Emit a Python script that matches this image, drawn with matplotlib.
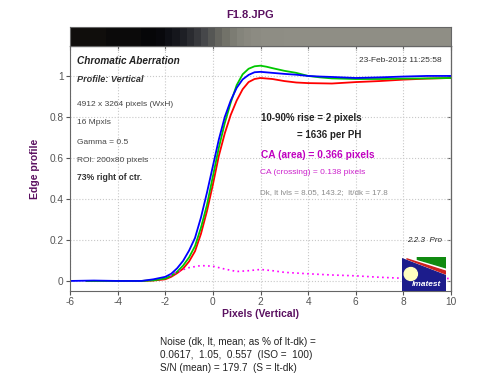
import numpy as np
import matplotlib.pyplot as plt
from matplotlib.patches import Polygon, Ellipse

plt.rcParams['font.family'] = ['Liberation Sans', 'DejaVu Sans']
plt.rcParams['axes.unicode_minus'] = False

# edge profiles (pixels vs normalized level)
x_blue = [-6, -5, -4, -3, -2.5, -2, -1.75, -1.5, -1.25, -1, -0.75, -0.5, -0.25, 0,
          0.25, 0.5, 0.75, 1, 1.25, 1.5, 1.75, 2, 2.5, 3, 3.5, 4, 4.5, 5, 6, 7, 8, 9, 10]
y_blue = [0.0, 0.002, 0.0, 0.0, 0.008, 0.02, 0.035, 0.062, 0.098, 0.148, 0.21, 0.31, 0.43, 0.56,
          0.69, 0.80, 0.88, 0.942, 0.983, 1.005, 1.018, 1.02, 1.015, 1.01, 1.006, 1.0, 0.997,
          0.995, 0.99, 0.993, 0.997, 1.0, 1.0]

x_green = [-5.3, -4, -3, -2.5, -2, -1.75, -1.5, -1.25, -1, -0.75, -0.5, -0.25, 0,
           0.25, 0.5, 0.75, 1, 1.25, 1.5, 1.75, 2, 2.25, 2.5, 3, 3.5, 4, 4.5, 5, 6, 7, 8, 9, 10]
y_green = [0.0, 0.0, 0.0, 0.003, 0.012, 0.025, 0.045, 0.075, 0.115, 0.17, 0.26, 0.37, 0.51,
           0.65, 0.77, 0.87, 0.955, 1.008, 1.035, 1.047, 1.05, 1.045, 1.038, 1.025, 1.015, 1.0,
           0.993, 0.988, 0.985, 0.985, 0.987, 0.988, 0.99]

x_red = [-5.3, -4, -3, -2.5, -2, -1.75, -1.5, -1.25, -1, -0.75, -0.5, -0.25, 0,
         0.25, 0.5, 0.75, 1, 1.25, 1.5, 1.75, 2, 2.5, 3, 3.5, 4, 5, 6, 7, 8, 9, 10]
y_red = [0.0, 0.0, 0.0, 0.002, 0.008, 0.02, 0.038, 0.06, 0.095, 0.145, 0.23, 0.34, 0.47,
         0.61, 0.72, 0.81, 0.88, 0.935, 0.97, 0.985, 0.99, 0.985, 0.975, 0.968, 0.965,
         0.963, 0.97, 0.975, 0.982, 0.987, 0.99]

# chromatic aberration difference (dotted)
x_ca = [-1.8, -1.5, -1, -0.5, 0, 0.5, 1, 1.5, 2, 2.5, 3, 4, 5, 6, 7, 8, 9, 10]
y_ca = [0.025, 0.045, 0.065, 0.075, 0.072, 0.058, 0.046, 0.05, 0.056, 0.05, 0.042, 0.035,
        0.029, 0.025, 0.018, 0.013, 0.012, 0.012]

# edge image strip above the plot
bar_edges = [-6, -4.5, -3, -2.4, -2.0, -1.7, -1.4, -1.1, -0.8, -0.5, -0.2, 0.1, 0.4, 0.7,
             1.0, 1.3, 1.6, 2.0, 3, 10]
bar_colors = ['#100e0c', '#0b0a0a', '#060608', '#08080c', '#0e0f15', '#15161c', '#1e1f25',
              '#2a2b30', '#37383c', '#46474a', '#555654', '#65655f', '#727269', '#7c7c73',
              '#84847b', '#89887f', '#8c8b82', '#8e8d84', '#8f8e85']

fig = plt.figure(figsize=(5, 3.84), dpi=100)


def fx(px):
    return px / 500


def fy(py):
    return 1 - py / 384


ax = fig.add_axes([0.14, 0.2422, 0.762, 0.638])
ax.plot(x_red, y_red, color='#ff0000', lw=1.3)
ax.plot(x_green, y_green, color='#00c800', lw=1.3)
ax.plot(x_blue, y_blue, color='#0000ff', lw=1.3)
ax.plot(x_ca, y_ca, color='#ff00ff', lw=1.2, ls=(0, (1, 2)))

ax.set_xlim(-6, 10)
ax.set_ylim(-0.049, 1.146)
ax.set_xticks(range(-6, 11, 2))
ax.set_yticks([0, 0.2, 0.4, 0.6, 0.8, 1])
ax.set_yticklabels(['0', '0.2', '0.4', '0.6', '0.8', '1'])
ax.grid(True, ls=':', color='#c8c8c8', lw=0.8)
ax.tick_params(labelsize=7.3, colors='#555555', length=3, direction='out', pad=1.5)
for s in ax.spines.values():
    s.set_color('#666666')
    s.set_linewidth(0.8)
sec = ax.secondary_xaxis('top')
sec.set_xticks(range(-6, 11, 2))
sec.tick_params(direction='in', length=3, labeltop=False, colors='#666666')
sec2 = ax.secondary_yaxis('right')
sec2.set_yticks([0, 0.2, 0.4, 0.6, 0.8, 1])
sec2.tick_params(direction='in', length=3, labelright=False, colors='#666666')

ax.set_xlabel('Pixels (Vertical)', fontsize=7.5, fontweight='bold', color='#5a1060', labelpad=1)
ax.set_ylabel('Edge profile', fontsize=7.5, fontweight='bold', color='#5a1060', labelpad=7)

# strip
axb = fig.add_axes([0.14, 0.880, 0.762, 0.0495])
axb.bar(bar_edges[:-1], 1, width=np.diff(bar_edges), align='edge', color=bar_colors, lw=0)
axb.set_xlim(-6, 10)
axb.set_ylim(0, 1)
axb.set_xticks([])
axb.set_yticks([])
for s in axb.spines.values():
    s.set_color('#666666')
    s.set_linewidth(0.8)

fig.text(0.5, fy(15), 'F1.8.JPG', ha='center', va='center', fontsize=8,
         fontweight='bold', color='#5a1060')

# annotations inside plot
fig.text(fx(77), fy(61), 'Chromatic Aberration', fontsize=7.2, fontweight='bold',
         style='italic', color='#222222', va='center')
fig.text(fx(77), fy(79), 'Profile: Vertical', fontsize=6.6, fontweight='bold',
         style='italic', color='#333333', va='center')
left_lines = ['4912 x 3264 pixels (WxH)', '16 Mpxls', 'Gamma = 0.5', 'ROI: 200x80 pixels']
for i, t in enumerate(left_lines):
    fig.text(fx(77), fy(104 + i * 19), t, fontsize=6, color='#444444', va='center')
fig.text(fx(77), fy(177), '73% right of ctr.', fontsize=6.2, fontweight='bold',
         color='#333333', va='center')
fig.text(fx(442), fy(61), '23-Feb-2012 11:25:58', fontsize=6, color='#333333',
         ha='right', va='center')
fig.text(fx(261), fy(118), '10-90% rise = 2 pixels', fontsize=7, fontweight='bold',
         color='#222222', va='center')
fig.text(fx(297), fy(135), '= 1636 per PH', fontsize=7, fontweight='bold',
         color='#222222', va='center')
fig.text(fx(261), fy(155), 'CA (area) = 0.366 pixels', fontsize=7.3, fontweight='bold',
         color='#c000c0', va='center')
fig.text(fx(260), fy(173), 'CA (crossing) = 0.138 pixels', fontsize=6,
         color='#cc22cc', va='center')
fig.text(fx(260), fy(193), 'Dk, lt lvls = 8.05, 143.2;  lt/dk = 17.8', fontsize=5.8,
         color='#8a8a8a', va='center')
fig.text(fx(442), fy(240), '2.2.3  Pro', fontsize=5.8, style='italic', color='#222222',
         ha='right', va='center')

# logo
axl = fig.add_axes([fx(402), fy(291), fx(44), 34 / 384])
axl.set_xlim(0, 1)
axl.set_ylim(0, 1)
axl.axis('off')
axl.add_patch(Polygon([(0, 0), (1, 0), (1, 0.45), (0, 0.95)], color='#1c1c8c'))
axl.add_patch(Polygon([(0.1, 0.95), (1, 0.5), (1, 0.58)], color='#cc2020'))
axl.add_patch(Polygon([(0.35, 1.0), (1, 1.0), (1, 0.68), (0.35, 0.93)], color='#108a10'))
axl.add_patch(Ellipse((0.2, 0.5), 0.3, 0.38, color='#ffffc0'))
axl.text(0.55, 0.18, 'Imatest', color='white', fontsize=6, fontweight='bold',
         style='italic', ha='center', va='center')

# noise text
noise_lines = ['Noise (dk, lt, mean; as % of lt-dk) =',
               '0.0617,  1.05,  0.557  (ISO =  100)',
               'S/N (mean) = 179.7  (S = lt-dk)']
for i, t in enumerate(noise_lines):
    fig.text(fx(160), fy(342 + i * 13), t, fontsize=7.2, color='#222222', va='center')

fig.savefig('out.png', dpi=100)
